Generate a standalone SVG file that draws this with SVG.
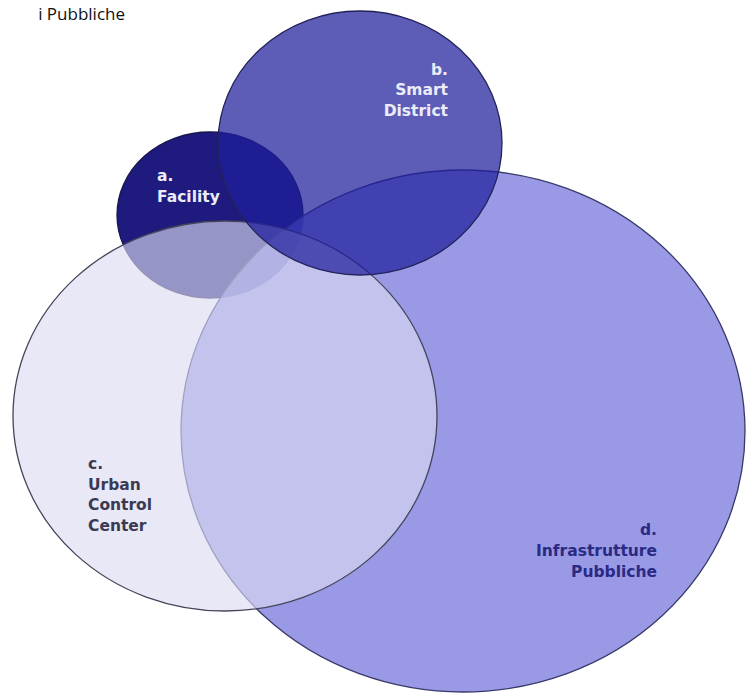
<svg xmlns="http://www.w3.org/2000/svg" width="747" height="695" viewBox="0 0 747 695">
  <style>
    .lbl { font-family: "DejaVu Sans", Verdana, sans-serif; font-weight: bold; font-size: 15.5px; }
    .w { fill: #ececf8; }
    .dk { fill: #3a3a52; }
    .nv { fill: #2a2a84; }
    .ring { stroke-width: 1.3; }
  </style>
  <rect x="0" y="0" width="747" height="695" fill="#ffffff"/>
  <text x="125" y="20" text-anchor="end" font-family="'Open Sans', 'Noto Sans', sans-serif" font-size="17" fill="#111111">i Pubbliche</text>

  <g id="node-a">
    <ellipse class="ring" cx="210" cy="215" rx="93" ry="83" fill="#1e1a7e" stroke="#18164a"/>
    <text class="lbl w" x="157" y="181">a.</text>
    <text class="lbl w" x="157" y="202">Facility</text>
  </g>

  <g id="node-d">
    <ellipse class="ring" cx="463" cy="431" rx="282" ry="261" fill="#8080e0" fill-opacity="0.8" stroke="#3a3a6a"/>
    <text class="lbl nv" x="657" y="535" text-anchor="end">d.</text>
    <text class="lbl nv" x="657" y="556" text-anchor="end">Infrastrutture</text>
    <text class="lbl nv" x="657" y="577" text-anchor="end">Pubbliche</text>
  </g>

  <g id="node-c">
    <ellipse class="ring" cx="225" cy="416" rx="212" ry="195" fill="#dbdbf2" fill-opacity="0.64" stroke="#45455a"/>
    <text class="lbl dk" x="88" y="469">c.</text>
    <text class="lbl dk" x="88" y="490">Urban</text>
    <text class="lbl dk" x="88" y="510">Control</text>
    <text class="lbl dk" x="88" y="531">Center</text>
  </g>

  <g id="node-b">
    <ellipse class="ring" cx="360" cy="143" rx="142" ry="132" fill="#1f1f9c" fill-opacity="0.72" stroke="#23235a"/>
    <text class="lbl w" x="448" y="75" text-anchor="end">b.</text>
    <text class="lbl w" x="448" y="95" text-anchor="end">Smart</text>
    <text class="lbl w" x="448" y="116" text-anchor="end">District</text>
  </g>

  <g id="connectors"/>
</svg>
